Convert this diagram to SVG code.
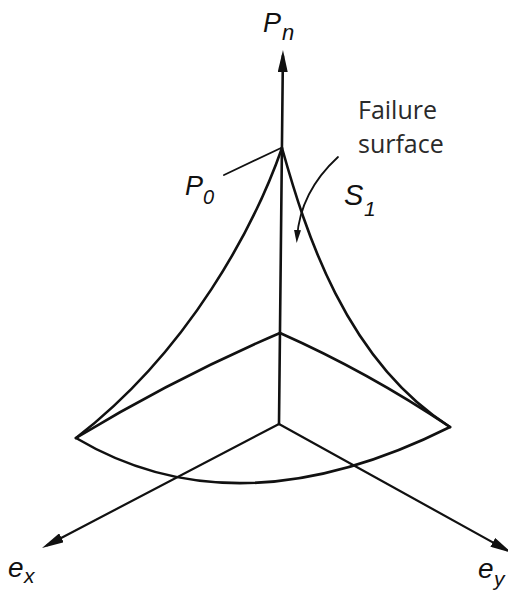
<svg xmlns="http://www.w3.org/2000/svg" width="508" height="592" viewBox="0 0 508 592">
<style>
.ln{fill:none;stroke:#111;stroke-width:2.6;stroke-linecap:round;stroke-linejoin:round}
.ax{fill:none;stroke:#111;stroke-width:2.2;stroke-linecap:round}
.thin{fill:none;stroke:#111;stroke-width:1.8;stroke-linecap:round}
.lab{font-family:"Liberation Sans","DejaVu Sans",sans-serif;font-style:italic;fill:#111}
.note{font-family:"Open Sans","Liberation Sans",sans-serif;font-size:25px;fill:#2a2a2a}
</style>
<defs>
<marker id="ah" viewBox="0 0 22 10" refX="16" refY="5" markerWidth="22" markerHeight="10" markerUnits="userSpaceOnUse" orient="auto">
<path d="M0,0 L22,5 L0,10 z" fill="#111"/>
</marker>
<marker id="ahs" viewBox="0 0 13 7" refX="8" refY="3.5" markerWidth="13" markerHeight="7" markerUnits="userSpaceOnUse" orient="auto">
<path d="M0,0 L13,3.5 L0,7 z" fill="#111"/>
</marker>
</defs>
<rect width="508" height="592" fill="#fff"/>
<g id="connectors">
<path id="axis-pn" class="ln" d="M279,424 L282.9,56" marker-end="url(#ah)"/>
<path id="axis-ex" class="ax" d="M279,424 L47.3,545.2" marker-end="url(#ah)"/>
<path id="axis-ey" class="ax" d="M279,424 L506.8,550.1" marker-end="url(#ah)"/>
<path id="leader-p0" class="thin" d="M281,148 L224,175"/>
<path id="leader-s1" class="thin" d="M338,157 Q300,192 297,238" marker-end="url(#ahs)"/>
</g>
<g id="surface">
<path id="edge-left" class="ln" d="M282,148 C255,225 190,350 76,438"/>
<path id="edge-right" class="ln" d="M282,148 C305,230 345,360 450,427"/>
<path id="base-arc" class="ln" d="M76,438 Q237,533.5 450,427"/>
<path id="top-left" class="ln" d="M280,333 Q175,378 76,438"/>
<path id="top-right" class="ln" d="M280,333 Q368,372 450,427"/>
</g>
<g id="labels">
<g id="label-pn"><text class="lab" x="263" y="32" font-size="27">P</text><text class="lab" x="282" y="40" font-size="22">n</text></g>
<g id="label-p0"><text class="lab" x="185" y="195" font-size="27">P</text><text class="lab" x="203" y="204" font-size="20">0</text></g>
<g id="label-s1"><text class="lab" x="344" y="205" font-size="29">S</text><text class="lab" x="364" y="216" font-size="21">1</text></g>
<g id="label-ex"><text class="lab" x="8" y="577" font-size="28">e</text><text class="lab" x="24" y="583" font-size="21">x</text></g>
<g id="label-ey"><text class="lab" x="478" y="578" font-size="28">e</text><text class="lab" x="494" y="586" font-size="21">y</text></g>
<g id="label-failure"><text class="note" x="358" y="119">Failure</text><text class="note" x="358" y="153">surface</text></g>
</g>
</svg>
